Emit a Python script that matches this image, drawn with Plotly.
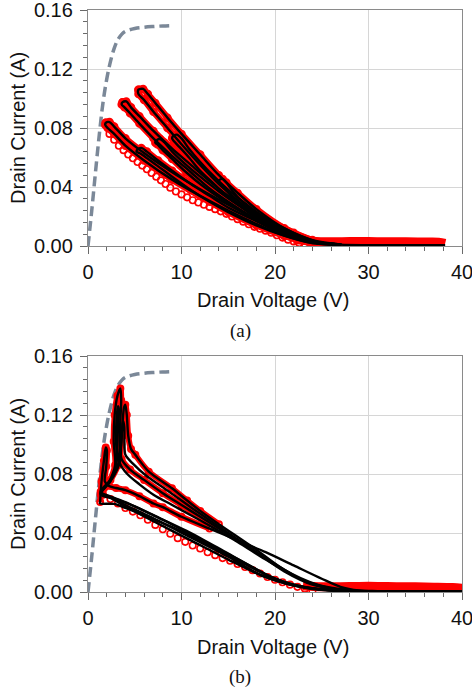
import plotly.graph_objects as go

# ---------------- data ----------------
# DC I-V curve (gray dashed), same in both panels
IV_V = [0, 0.4, 0.8, 1.2, 1.6, 2.0, 2.4, 2.8, 3.2, 3.6, 4.0, 5.0, 6.0, 7.0, 8.0, 9.2]
IV_I = [0, 0.024, 0.050, 0.075, 0.097, 0.113, 0.125, 0.134, 0.140, 0.1435, 0.1455, 0.1475, 0.1483, 0.1488, 0.1492, 0.1495]

# ---- panel (a): load-line loops ----
A1_V = [1.9, 2.3, 2.8, 4, 6, 9, 12, 15, 18, 21, 24, 27, 24, 21, 18, 15, 12, 9, 6, 4, 2.8, 2.1, 1.85, 1.9]
A1_I = [0.0835, 0.084, 0.081, 0.073, 0.063, 0.050, 0.0385, 0.028, 0.018, 0.009, 0.003, 0.001, 0.002, 0.007, 0.015, 0.024, 0.034, 0.045, 0.058, 0.068, 0.076, 0.080, 0.082, 0.0835]
A2_V = [3.7, 4.1, 4.6, 5.5, 7, 9, 11, 13, 15, 18, 21, 24, 27, 24, 21, 18, 15, 13, 11, 9, 7, 5.5, 4.5, 3.9, 3.6, 3.7]
A2_I = [0.0975, 0.098, 0.094, 0.088, 0.078, 0.066, 0.055, 0.044, 0.034, 0.021, 0.010, 0.003, 0.001, 0.0025, 0.008, 0.018, 0.030, 0.039, 0.050, 0.061, 0.073, 0.083, 0.090, 0.094, 0.096, 0.0975]
A3_V = [5.4, 5.9, 6.4, 7.2, 8.5, 10, 12, 14, 16, 18, 21, 24, 27, 24, 21, 18, 16, 14, 12, 10, 8.5, 7, 6, 5.4, 5.4]
A3_I = [0.106, 0.1065, 0.103, 0.097, 0.087, 0.076, 0.062, 0.048, 0.036, 0.025, 0.012, 0.004, 0.001, 0.003, 0.010, 0.021, 0.031, 0.042, 0.055, 0.069, 0.080, 0.091, 0.099, 0.103, 0.106]
A4_V = [5.3, 5.7, 6.3, 7.5, 9, 11, 13, 15, 18, 21, 24, 27, 24, 21, 18, 15, 13, 11, 9, 7.5, 6.2, 5.5, 5.2, 5.3]
A4_I = [0.0655, 0.0665, 0.064, 0.058, 0.051, 0.042, 0.034, 0.026, 0.017, 0.009, 0.003, 0.001, 0.002, 0.007, 0.014, 0.023, 0.030, 0.038, 0.047, 0.054, 0.060, 0.063, 0.064, 0.0655]
A5_V = [7.3, 7.7, 8.2, 9, 10.5, 12, 14, 16, 18, 21, 24, 27, 24, 21, 18, 16, 14, 12, 10.5, 9, 8, 7.4, 7.2, 7.3]
A5_I = [0.0715, 0.0725, 0.070, 0.064, 0.055, 0.047, 0.037, 0.028, 0.020, 0.010, 0.003, 0.001, 0.0025, 0.008, 0.017, 0.025, 0.033, 0.042, 0.050, 0.059, 0.065, 0.069, 0.070, 0.0715]
A6_V = [9.1, 9.5, 10, 10.8, 12, 13.5, 15, 17, 19, 22, 25, 27, 25, 22, 19, 17, 15, 13.5, 12, 10.8, 9.8, 9.2, 9.0, 9.1]
A6_I = [0.0745, 0.0755, 0.073, 0.066, 0.057, 0.047, 0.038, 0.028, 0.019, 0.009, 0.002, 0.001, 0.0018, 0.007, 0.016, 0.024, 0.033, 0.042, 0.051, 0.060, 0.067, 0.071, 0.073, 0.0745]
A7_V = [14.0, 14.4, 14.8, 15.5, 16.5, 18, 20, 22, 25, 27, 25, 22, 20, 18, 16.5, 15.5, 14.8, 14.2, 13.9, 14.0]
A7_I = [0.0445, 0.0455, 0.043, 0.037, 0.030, 0.022, 0.014, 0.008, 0.002, 0.001, 0.0015, 0.006, 0.012, 0.019, 0.026, 0.032, 0.038, 0.042, 0.043, 0.0445]

# measured lower branch (open circles) in (a)
A_LOW_V = [2.3, 2.8, 3.3, 3.8, 4.3, 4.8, 5.3, 5.8, 6.3, 6.8, 7.3, 7.8, 8.3, 8.8, 9.4, 10.0, 10.6, 11.2, 11.8, 12.4,
           13.0, 13.6, 14.2, 14.8, 15.4, 16.0, 16.6, 17.2, 17.8, 18.4, 19.0, 19.6, 20.2, 20.8, 21.4, 22.0, 22.6, 23.2, 23.8, 24.4]
A_LOW_I = [0.076, 0.072, 0.068, 0.065, 0.062, 0.0595, 0.057, 0.0545, 0.052, 0.0495, 0.047, 0.0445, 0.042, 0.0395, 0.037, 0.035, 0.033, 0.031, 0.0295, 0.028,
           0.0265, 0.025, 0.0235, 0.0218, 0.020, 0.0182, 0.0165, 0.0147, 0.013, 0.0117, 0.0104, 0.009, 0.0073, 0.0057, 0.0043, 0.0031, 0.002, 0.0012, 0.0006, 0.0003]
# pinch-off tails in (a)
A_TAILR_V = [22, 24, 26, 28, 30, 32, 34, 36, 37.5, 38.2]
A_TAILR_I = [0.0045, 0.0032, 0.0028, 0.003, 0.003, 0.0028, 0.0029, 0.0027, 0.0026, 0.0018]
A_TAILK_V = [24, 27, 30, 34, 38.2]
A_TAILK_I = [0.0025, 0.0009, 0.0006, 0.0006, 0.0006]

# ---- panel (b): load-line loops ----
B1_V = [1.35, 2.2, 2.9, 2.75, 2.85, 3.15, 3.46, 3.55, 3.45, 3.4, 3.6, 4.5, 6, 8, 10, 12, 14, 17, 20, 23, 26, 29, 26, 23, 20, 17, 14, 11, 8, 5, 3, 1.35]
B1_I = [0.066, 0.074, 0.086, 0.102, 0.120, 0.133, 0.138, 0.130, 0.115, 0.100, 0.090, 0.083, 0.076, 0.067, 0.059, 0.051, 0.043, 0.031, 0.019, 0.008, 0.0025, 0.0006, 0.0012, 0.0035, 0.009, 0.019, 0.029, 0.039, 0.049, 0.058, 0.063, 0.066]
B2_V = [1.35, 2.4, 3.2, 3.55, 3.7, 3.85, 3.99, 4.15, 4.3, 4.6, 5.06, 6.5, 8.98, 10.6, 12, 14, 17.7, 21, 24.5, 28, 25, 22, 19, 15, 11, 7, 4, 2.3, 1.35]
B2_I = [0.068, 0.076, 0.086, 0.100, 0.115, 0.125, 0.127, 0.120, 0.106, 0.097, 0.093, 0.0816, 0.0703, 0.062, 0.055, 0.046, 0.030, 0.015, 0.005, 0.0008, 0.0018, 0.005, 0.012, 0.026, 0.040, 0.052, 0.061, 0.065, 0.068]
B3_V = [1.3, 1.45, 1.7, 1.9, 2.02, 1.95, 1.8, 2.2, 3.0, 4.0, 5.5, 7, 8, 10, 13, 16, 19, 22, 25, 27, 29, 31, 27, 24, 21, 18, 15, 12, 9, 6, 4, 2.8, 1.3, 1.3]
B3_I = [0.061, 0.075, 0.089, 0.098, 0.096, 0.085, 0.075, 0.072, 0.0705, 0.069, 0.065, 0.060, 0.0575, 0.051, 0.043, 0.035, 0.027, 0.018, 0.009, 0.0035, 0.001, 0.0003, 0.0008, 0.0025, 0.006, 0.015, 0.025, 0.035, 0.044, 0.052, 0.057, 0.0597, 0.060, 0.061]
B4_V = [1.35, 2.4, 3.05, 3.0, 3.05, 3.2, 3.3, 3.2, 3.15, 3.35, 4.2, 5.5, 7, 9, 11, 13, 16, 19, 22, 25, 28, 25, 22, 19, 15, 11, 7, 4, 2.4, 1.35]
B4_I = [0.067, 0.075, 0.088, 0.103, 0.117, 0.126, 0.124, 0.110, 0.097, 0.088, 0.080, 0.073, 0.066, 0.059, 0.052, 0.045, 0.034, 0.022, 0.011, 0.0035, 0.0007, 0.0015, 0.0045, 0.010, 0.022, 0.035, 0.048, 0.058, 0.064, 0.067]
B5_V = [1.35, 2.6, 3.4, 3.55, 3.65, 3.75, 3.88, 3.9, 4.0, 4.8, 6.2, 8, 10, 12, 15, 18, 21, 24, 27, 24, 21, 18, 15, 11, 7, 4, 2.5, 1.35]
B5_I = [0.067, 0.077, 0.088, 0.100, 0.111, 0.116, 0.112, 0.101, 0.093, 0.087, 0.079, 0.071, 0.062, 0.053, 0.040, 0.027, 0.014, 0.005, 0.001, 0.002, 0.006, 0.013, 0.024, 0.037, 0.050, 0.059, 0.064, 0.067]

B_LOW_V = [1.6, 2.4, 3.2, 4.0, 4.8, 5.6, 6.4, 7.2, 8.0, 8.8, 9.6, 10.4, 11.2, 12.0, 12.8, 13.6, 14.4, 15.2, 16.0, 16.8,
           17.6, 18.4, 19.2, 20.0, 20.8, 21.6, 22.4, 23.2, 24.0]
B_LOW_I = [0.066, 0.063, 0.060, 0.057, 0.0545, 0.052, 0.049, 0.0455, 0.0425, 0.0395, 0.0365, 0.034, 0.0315, 0.0295, 0.027, 0.025, 0.023, 0.0212, 0.019, 0.017,
           0.0148, 0.0125, 0.0102, 0.0083, 0.0066, 0.005, 0.0035, 0.0022, 0.0008]
B_TAILR_V = [23, 25, 27, 29, 31, 33, 35, 37, 39, 40.2]
B_TAILR_I = [0.004, 0.0035, 0.0036, 0.0038, 0.0038, 0.0036, 0.0035, 0.0033, 0.003, 0.0025]
B_TAILK_V = [25, 28, 31, 35, 40]
B_TAILK_I = [0.0025, 0.001, 0.0006, 0.0005, 0.0005]

X_TICKS = [0, 10, 20, 30, 40]
Y_TICKS = [0.00, 0.04, 0.08, 0.12, 0.16]

# ---------------- styles ----------------
RED = "#ff0000"
BLACK = "#000000"
GRAY = "#7b8898"
AXLINE = "#8a8a8a"
GRID = "#d6d6d6"
TICK = "#6a6a6a"
FONT = "Liberation Sans, Arial, sans-serif"

fig = go.Figure()


def upto(v, i, vmax):
    out_v, out_i = [], []
    for a, b in zip(v, i):
        out_v.append(a)
        out_i.append(b)
        if a > vmax:
            break
    return out_v, out_i


def panel(xa, ya, loops, red_loops, red_cut, red_w, low_v, low_i, tr_v, tr_i, tk_v, tk_i):
    common = dict(xaxis=xa, yaxis=ya, showlegend=False, hoverinfo="skip")
    fig.add_trace(go.Scatter(x=IV_V, y=IV_I, mode="lines",
                             line=dict(color=GRAY, width=3.5, dash="10px,5px", shape="spline"), **common))
    # measured data (red)
    for v, i in red_loops:
        rv, ri = upto(v, i, red_cut)
        fig.add_trace(go.Scatter(x=rv, y=ri, mode="lines+markers",
                                 line=dict(color=RED, width=red_w, shape="spline"),
                                 marker=dict(symbol="circle-open", size=red_w, color=RED, line=dict(width=2)),
                                 **common))
    fig.add_trace(go.Scatter(x=low_v, y=low_i, mode="markers",
                             marker=dict(symbol="circle-open", size=6.5, color=RED, line=dict(width=1.6)),
                             **common))
    fig.add_trace(go.Scatter(x=tr_v, y=tr_i, mode="lines",
                             line=dict(color=RED, width=9, shape="spline"), **common))
    # simulation (black)
    for v, i in loops:
        fig.add_trace(go.Scatter(x=v, y=i, mode="lines",
                                 line=dict(color=BLACK, width=2.4, shape="spline", smoothing=0.8), **common))
    fig.add_trace(go.Scatter(x=tk_v, y=tk_i, mode="lines",
                             line=dict(color=BLACK, width=2.4, shape="spline"), **common))


A_LOOPS = [(A1_V, A1_I), (A2_V, A2_I), (A3_V, A3_I), (A4_V, A4_I), (A5_V, A5_I), (A6_V, A6_I), (A7_V, A7_I)]
B_LOOPS = [(B3_V, B3_I), (B1_V, B1_I), (B2_V, B2_I), (B4_V, B4_I), (B5_V, B5_I)]

panel("x", "y", A_LOOPS, A_LOOPS, 40, 6.5, A_LOW_V, A_LOW_I, A_TAILR_V, A_TAILR_I, A_TAILK_V, A_TAILK_I)
panel("x2", "y2", B_LOOPS, B_LOOPS[:3], 12, 6, B_LOW_V, B_LOW_I, B_TAILR_V, B_TAILR_I, B_TAILK_V, B_TAILK_I)

tickfont = dict(family=FONT, size=20, color="#111111")


def xaxis(anchor):
    return dict(anchor=anchor, domain=[0, 1], range=[0, 40], tickvals=X_TICKS,
                ticktext=[str(t) for t in X_TICKS],
                showline=True, linecolor=AXLINE, linewidth=1.3, mirror=True,
                showgrid=True, gridcolor=GRID, gridwidth=1.2, zeroline=False,
                ticks="outside", ticklen=7, tickwidth=1.3, tickcolor=TICK, tickfont=tickfont,
                ticklabelstandoff=1, ticklabeloverflow="allow",
                minor=dict(ticks="outside", ticklen=4, tickwidth=1.2, tickcolor=TICK, dtick=2, tick0=0, showgrid=False),
                automargin=False)


def yaxis(anchor, dom):
    return dict(anchor=anchor, domain=dom, range=[0, 0.16], tickvals=Y_TICKS,
                ticktext=["%.2f" % t for t in Y_TICKS],
                showline=True, linecolor=AXLINE, linewidth=1.3, mirror=True,
                showgrid=True, gridcolor=GRID, gridwidth=1.2, zeroline=False,
                ticks="outside", ticklen=7, tickwidth=1.3, tickcolor=TICK, tickfont=tickfont,
                ticklabelstandoff=3, ticklabeloverflow="allow",
                minor=dict(ticks="outside", ticklen=4, tickwidth=1.2, tickcolor=TICK, dtick=0.008, tick0=0, showgrid=False),
                automargin=False)


H = 690.0
W_PLOT = 472 - 88 - 10


def py(p):
    return (H - p) / H


def px(p):
    return (p - 88) / W_PLOT


title_font = dict(family=FONT, size=20, color="#111111")
label_font = dict(family="Liberation Serif, Times New Roman, serif", size=19, color="#111111")

annotations = [
    dict(text="Drain Current (A)", x=px(18), y=py(128), textangle=-90, font=title_font),
    dict(text="Drain Voltage (V)", x=px(273), y=py(300), font=title_font),
    dict(text="(a)", x=px(240), y=py(331), font=label_font),
    dict(text="Drain Current (A)", x=px(18), y=py(474), textangle=-90, font=title_font),
    dict(text="Drain Voltage (V)", x=px(273), y=py(647), font=title_font),
    dict(text="(b)", x=px(240), y=py(677), font=label_font),
]
for a in annotations:
    a.update(xref="paper", yref="paper", showarrow=False, xanchor="center", yanchor="middle")

fig.update_layout(
    width=472, height=690,
    margin=dict(l=88, r=10, t=0, b=0),
    paper_bgcolor="white", plot_bgcolor="white",
    xaxis=xaxis("y"),
    yaxis=yaxis("x", [py(246), py(10)]),
    xaxis2=xaxis("y2"),
    yaxis2=yaxis("x2", [py(592), py(356)]),
    annotations=annotations,
    showlegend=False,
)

fig.write_html("out.html", config={"displayModeBar": False},
               post_script="document.body.style.margin='0px';document.body.style.overflow='hidden';")
